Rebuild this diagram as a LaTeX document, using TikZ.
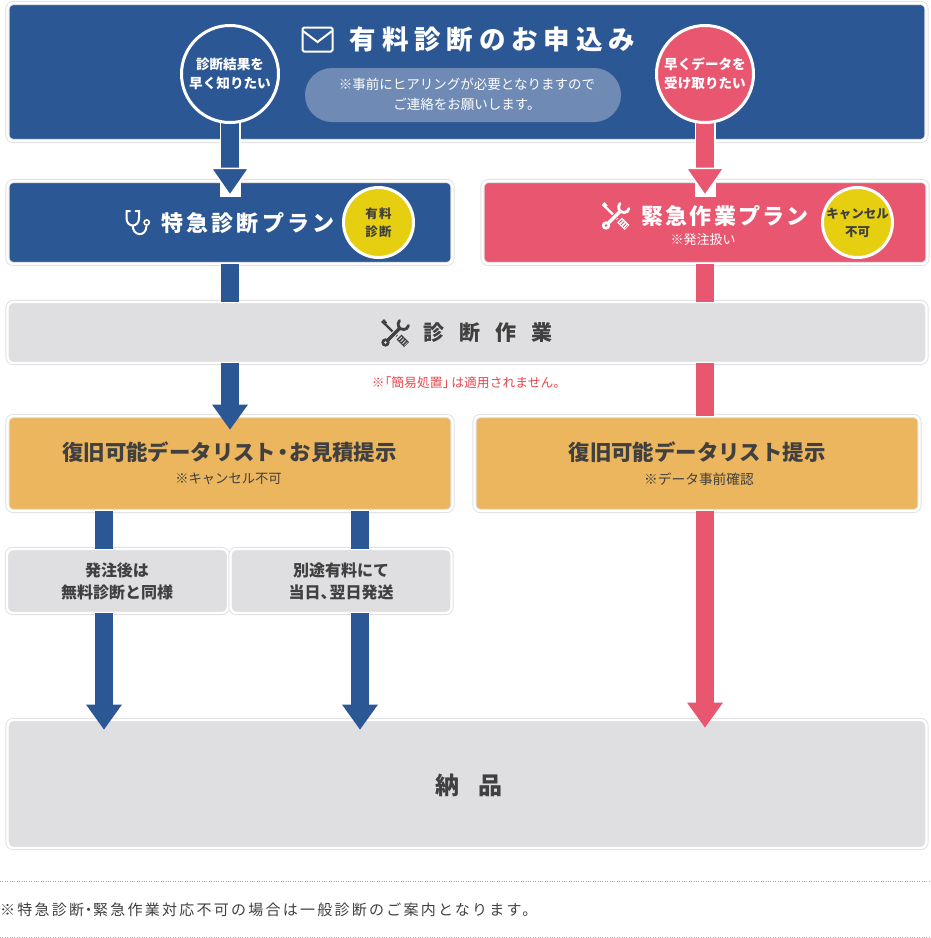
\documentclass[tikz,border=0pt]{standalone}
\usepackage{fontspec}
\setmainfont{Noto Sans CJK JP}
\definecolor{planblue}{RGB}{44,87,149}
\definecolor{planpink}{RGB}{233,86,112}
\definecolor{paneorange}{RGB}{235,182,94}
\definecolor{panegray}{RGB}{223,223,225}
\definecolor{paneline}{RGB}{224,224,226}
\definecolor{pillblue}{RGB}{111,139,181}
\definecolor{badgeyellow}{RGB}{230,206,16}
\definecolor{inkdark}{RGB}{64,64,64}
\definecolor{notered}{RGB}{232,69,75}
\usetikzlibrary{arrows.meta,positioning,shapes.geometric,calc}
\pgfdeclarelayer{panes}
\pgfdeclarelayer{flow}
\pgfsetlayers{panes,flow,main}

\newcommand{\toolsicon}[4]{%
    \begin{scope}[shift={(#1,#2)}, color=#3, fill=#3]
        \draw[line width=2.4pt] (-12.5,-11.5) -- (2,3);
        \fill (-14,-11) -- (-11,-14) -- (-8,-10.5) -- (-10.5,-8) -- cycle;
        \draw[line width=7pt] (4,4) -- (11.5,11.5);
        \draw[#4, line width=4.4pt, dash pattern=on 0.9pt off 1.8pt] (5,5) -- (11,11);
        \draw[#4, line width=5.4pt] (-9,9) -- (5,-5);
        \draw[line width=3.4pt] (-9,9) -- (5,-5);
        \draw[line width=2.8pt, line cap=round] (4.5,-12.5) .. controls (1.5,-9) and (3.5,-3) .. (9,-3.5) .. controls (11,-3.7) and (13,-5) .. (13.5,-7.5);
        \fill (-9.5,9.5) circle (4.2pt);
        \fill[#4] (-9.5,9.5) circle (1.4pt);
    \end{scope}
}

\begin{document}
\begin{tikzpicture}[x=1pt, y=-1pt,
    pane/.style={rectangle, rounded corners=6pt, draw=paneline, double=white, double distance=2.4pt, line width=0.9pt, inner sep=0pt},
    badge/.style={circle, draw=white, line width=3pt, inner sep=0pt, minimum size=97pt, text=white, align=center, font=\fontsize{13.6}{19}\selectfont\bfseries},
    seal/.style={circle, draw=white, line width=3pt, inner sep=0pt, fill=badgeyellow, minimum size=70pt, text=inkdark, align=center},
    flowblue/.style={line width=18pt, draw=planblue},
    flowpink/.style={line width=18pt, draw=planpink},
    tipblue/.style={flowblue, -{Triangle[length=25pt, width=36pt, fill=planblue, color=planblue, line width=0pt]}},
    tippink/.style={flowpink, -{Triangle[length=25pt, width=36pt, fill=planpink, color=planpink, line width=0pt]}},
    rimblue/.style={flowblue, -{Triangle[length=29pt, width=40pt, fill=planblue, color=white, line width=1.5pt]}, preaction={draw=white, line width=21pt, -}},
    rimpink/.style={flowpink, -{Triangle[length=29pt, width=40pt, fill=planpink, color=white, line width=1.5pt]}, preaction={draw=white, line width=21pt, -}},
]
    \useasboundingbox (0,0) rectangle (931,938);

    \begin{pgfonlayer}{panes}
        \node[pane, fill=planblue, minimum width=919pt, minimum height=138pt] (apply) at (467,72) {};
        \node[pane, fill=planblue, minimum width=445pt, minimum height=83pt] (urgent) at (230,222.5) {};
        \node[pane, fill=planpink, minimum width=445pt, minimum height=83pt] (rush) at (705,222.5) {};
        \node[pane, fill=panegray, minimum width=919pt, minimum height=61pt] (work) at (467,332.5) {};
        \node[pane, fill=paneorange, minimum width=445pt, minimum height=95pt] (listA) at (230,463.5) {};
        \node[pane, fill=paneorange, minimum width=445pt, minimum height=95pt] (listB) at (697,463.5) {};
        \node[pane, fill=panegray, minimum width=221pt, minimum height=64pt] (subA) at (117.5,581) {};
        \node[pane, fill=panegray, minimum width=221pt, minimum height=64pt] (subB) at (341,581) {};
        \node[pane, fill=panegray, minimum width=919pt, minimum height=128pt] (deliver) at (467,784) {};
    \end{pgfonlayer}

    \node[badge, fill=planblue] (soon) at (230,74) {診断結果を\\早く知りたい};
    \node[badge, fill=planpink] (fast) at (705,74) {早くデータを\\受け取りたい};
    \node[seal, font=\fontsize{12.5}{18}\selectfont\bfseries\addfontfeature{LetterSpace=10}] (paid) at (378.5,222.5) {有料\\診断};
    \node[seal, font=\fontsize{12.5}{18}\selectfont\bfseries] (nocancel) at (857.5,222.5) {キャンセル\\不可};

    \coordinate (laneA) at (104,640);
    \coordinate (laneB) at (360,640);

    \begin{pgfonlayer}{flow}
        \draw[rimblue, shorten >=-16pt] (soon.center) -- (urgent.north);
        \draw[rimpink, shorten >=-16pt] (fast.center) -- (rush.north);
        \draw[flowblue] (urgent.south) -- (urgent |- work.north);
        \draw[flowpink] (rush.south) -- (rush |- work.north);
        \draw[tipblue, shorten >=-14pt] (listA |- work.south) -- (listA.north);
        \draw[flowpink] (rush |- work.south) -- (rush |- listB.north);
        \draw[flowblue] (laneA |- listA.south) -- (laneA |- subA.north);
        \draw[flowblue] (laneB |- listA.south) -- (laneB |- subB.north);
        \draw[tipblue, shorten >=-10pt] (laneA |- subA.south) -- (laneA |- deliver.north);
        \draw[tipblue, shorten >=-10pt] (laneB |- subB.south) -- (laneB |- deliver.north);
        \draw[tippink, shorten >=-8pt] (rush |- listB.south) -- (rush |- deliver.north);
    \end{pgfonlayer}

    \node[rectangle, rounded corners=27pt, fill=pillblue, minimum width=316pt, minimum height=54pt] (call) at (463,95) {};
    \node[text=white, align=center, font=\fontsize{13.5}{20}\selectfont] (callT) at (467,94) {※事前にヒアリングが必要となりますので\\ご連絡をお願いします。};

    \node[text=white, font=\fontsize{26.5}{30}\selectfont\bfseries\addfontfeature{LetterSpace=22}] (applyT) at (492.5,39) {有料診断のお申込み};
    \node[text=white, font=\fontsize{22}{26}\selectfont\bfseries\addfontfeature{LetterSpace=14}] (urgentT) at (248,223) {特急診断プラン};
    \node[text=white, font=\fontsize{22}{26}\selectfont\bfseries\addfontfeature{LetterSpace=10}] (rushT) at (725,216) {緊急作業プラン};
    \node[text=white, font=\fontsize{13}{16}\selectfont] (rushN) at (703,240) {※発注扱い};
    \node[text=inkdark, font=\fontsize{21}{26}\selectfont\bfseries\addfontfeature{LetterSpace=71}] (workT) at (488,333) {診断作業};
    \node[text=notered, font=\fontsize{12.8}{16}\selectfont] (workN) at (469,383) {※\kern-6pt「簡易処置」\kern-4pt は適用されません。};
    \node[text=inkdark, font=\fontsize{21.4}{26}\selectfont\bfseries] (listAT) at (229.5,452) {復旧可能データリスト\kern-4pt・\kern-4pt お見積提示};
    \node[text=inkdark, font=\fontsize{13.3}{16}\selectfont] (listAN) at (228.5,479) {※キャンセル不可};
    \node[text=inkdark, font=\fontsize{21.4}{26}\selectfont\bfseries] (listBT) at (697,452) {復旧可能データリスト提示};
    \node[text=inkdark, font=\fontsize{13.7}{16}\selectfont] (listBN) at (699,479) {※データ事前確認};
    \node[text=inkdark, align=center, font=\fontsize{16}{22}\selectfont\bfseries] (subAT) at (117,581) {発注後は\\無料診断と同様};
    \node[text=inkdark, align=center, font=\fontsize{16}{22}\selectfont\bfseries] (subBT) at (341,581) {別途有料にて\\当日、\kern-7pt 翌日発送};
    \node[text=inkdark, font=\fontsize{24}{28}\selectfont\bfseries\addfontfeature{LetterSpace=80}] (deliverT) at (469,785) {納品};
    \node[anchor=west, inner sep=0pt, text=inkdark, font=\fontsize{15}{20}\selectfont\addfontfeature{LetterSpace=15}] (footT) at (0,910) {※特急診断\kern-3pt・\kern-3pt 緊急作業対応不可の場合は一般診断のご案内となります。};

    % envelope
    \draw[white, line width=2pt, rounded corners=1.5pt] (302.5,27.5) rectangle (332.5,51.5);
    \draw[white, line width=2pt] (303,31) -- (317.5,42) -- (332,31);

    % stethoscope
    \draw[white, line width=2pt, line cap=round] (130,211) -- (126.5,211) -- (126.5,218) .. controls (126.5,228) and (139,228) .. (139,218) -- (139,211) -- (135.5,211);
    \draw[white, line width=2pt] (132.8,225) .. controls (132,236) and (146,238) .. (146.5,226);
    \draw[white, line width=1.6pt] (146.7,222.5) circle (2.6pt);

    \toolsicon{615.5}{216}{white}{planpink}
    \toolsicon{395}{333}{inkdark}{panegray}

    \draw[gray!70, dotted] (0,881.5) -- (931,881.5);
    \draw[gray!70, dotted] (0,937) -- (931,937);
\end{tikzpicture}
\end{document}
